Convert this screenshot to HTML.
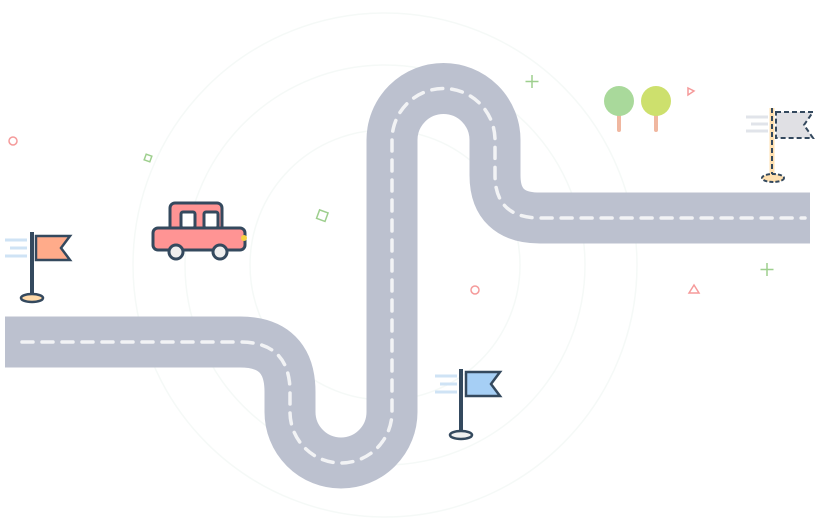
<!DOCTYPE html>
<html><head><style>body{margin:0;background:#fff}svg{display:block}</style></head><body>
<svg width="815" height="532" viewBox="0 0 815 532" xmlns="http://www.w3.org/2000/svg">
<g fill="none" stroke="#f5f9f7" stroke-width="1.5">
<circle cx="385" cy="265" r="252"/><circle cx="385" cy="265" r="200"/><circle cx="385" cy="265" r="135"/>
</g>
<path d="M5,342 L240,342 Q290,342 290,392 L290,412 A51,51 0 0 0 392,412 L392,140 A51.5,51.5 0 0 1 495,140 L495,175 Q495,218 540,218 L810,218" fill="none" stroke="#bcc1cf" stroke-width="51"/>
<path d="M22,342 L240,342 Q290,342 290,392 L290,412 A51,51 0 0 0 392,412 L392,140 A51.5,51.5 0 0 1 495,140 L495,175 Q495,218 540,218 L805,218" fill="none" stroke="#f2f3f5" stroke-width="3.5" stroke-dasharray="11 9" stroke-linecap="round"/>
<!-- car -->
<g stroke="#34495e" stroke-width="3">
<rect x="170" y="203" width="52" height="30" rx="5" fill="#ff9494"/>
<rect x="181" y="212" width="14" height="16" rx="2" fill="#fff"/>
<rect x="204" y="212" width="14" height="16" rx="2" fill="#fff"/>
<rect x="153" y="228" width="92" height="22" rx="5" fill="#ff9494"/>
<circle cx="176" cy="252" r="7" fill="#eee"/><circle cx="220" cy="252" r="7" fill="#eee"/>
</g>
<circle cx="244" cy="238" r="3" fill="#f5d142"/>
<!-- flags -->
<g>
<path d="M5,240h22M10,248h17M5,256h22" stroke="#cfe3f5" stroke-width="3"/>
<path d="M36,236h34l-9,12 9,12h-34z" fill="#ffab8a" stroke="#34495e" stroke-width="2.5"/>
<line x1="32" y1="232" x2="32" y2="296" stroke="#34495e" stroke-width="4"/>
<ellipse cx="32" cy="298" rx="11" ry="4" fill="#ffd9a8" stroke="#34495e" stroke-width="2.5"/>
</g>
<g>
<path d="M435,376h22M440,384h17M435,392h22" stroke="#cfe3f5" stroke-width="3"/>
<path d="M466,372h34l-9,12 9,12h-34z" fill="#a6cff5" stroke="#34495e" stroke-width="2.5"/>
<line x1="461" y1="369" x2="461" y2="432" stroke="#34495e" stroke-width="4"/>
<ellipse cx="461" cy="435" rx="11" ry="4" fill="#f0f0f0" stroke="#34495e" stroke-width="2.5"/>
</g>
<g>
<path d="M746,117h22M751,124h17M746,131h22" stroke="#e1e4ea" stroke-width="3"/>
<path d="M776,112h37l-9,13 9,13h-37z" fill="#e0e0e4" stroke="#34495e" stroke-width="2" stroke-dasharray="5 3"/>
<line x1="772" y1="108" x2="772" y2="175" stroke="#ffe0b0" stroke-width="5"/>
<line x1="772" y1="108" x2="772" y2="175" stroke="#34495e" stroke-width="2" stroke-dasharray="5 3"/>
<ellipse cx="773" cy="178" rx="11" ry="4" fill="#ffe0b0" stroke="#34495e" stroke-width="2" stroke-dasharray="4 2"/>
</g>
<!-- trees -->
<line x1="619" y1="108" x2="619" y2="130" stroke="#f0b7a0" stroke-width="4" stroke-linecap="round"/>
<circle cx="619" cy="101" r="15" fill="#a9d99b"/>
<line x1="656" y1="108" x2="656" y2="130" stroke="#f0b7a0" stroke-width="4" stroke-linecap="round"/>
<circle cx="656" cy="101" r="15" fill="#cde06d"/>
<!-- small deco -->
<g fill="none" stroke-width="1.5">
<circle cx="13" cy="141" r="4" stroke="#f59a9a"/>
<circle cx="475" cy="290" r="4" stroke="#f59a9a"/>
<rect x="145" y="155" width="6" height="6" stroke="#9ecf8e" transform="rotate(20 148 158)"/>
<rect x="318" y="211" width="9" height="9" stroke="#9ecf8e" transform="rotate(20 322 215)"/>
<path d="M532,75v13M525.5,81.5h13" stroke="#9ecf8e"/>
<path d="M767,263v13M760.5,269.5h13" stroke="#9ecf8e"/>
<path d="M688,88l6,3-6,4z" stroke="#f59a9a"/>
<path d="M689,293l5-8 5,8z" stroke="#f59a9a"/>
</g>
</svg>
</body></html>
